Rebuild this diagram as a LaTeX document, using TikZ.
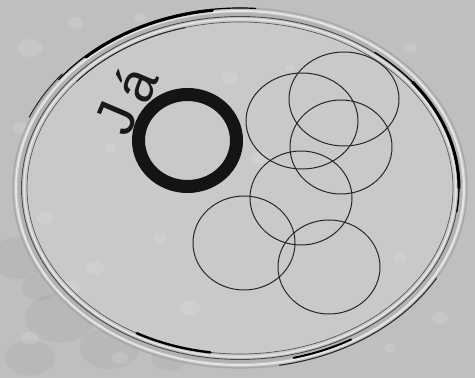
\documentclass[tikz,border=0pt]{standalone}
\usepackage{fontspec}
\newfontfamily\logofont{Liberation Sans}
\usetikzlibrary{positioning}
\definecolor{platebg}{gray}{0.75}
\definecolor{dishbg}{gray}{0.79}

\begin{document}
\begin{tikzpicture}[
  x=1pt, y=1pt,
  rim/.style={draw=black!45, line width=0.8pt},
  rimglow/.style={draw=white!80!gray, line width=2pt},
  rimband/.style={draw=black!30, line width=3pt},
  rimdark/.style={draw=black, line width=2.4pt, line cap=round},
  rimthin/.style={draw=black!85, line width=1pt, line cap=round},
  colony/.style={draw=black!85, line width=1pt},
  ring/.style={draw=black!92, line width=13pt},
  spot/.style={fill=white, opacity=0.13},
  smudge/.style={fill=black, opacity=0.035},
  logo/.style={rotate=67, anchor=base west, inner sep=0pt, text=black!90,
    font=\logofont\fontsize{56}{56}\selectfont}
]
\fill[platebg] (0,0) rectangle (475,378);
\useasboundingbox (0,0) rectangle (475,378);
\foreach \sx/\sy/\sr in {20/120/30, 60/60/35, 110/30/30, 30/20/25, 150/90/25, 90/150/20,
  200/40/22, 40/90/18, 130/60/16, 170/20/18, 75/110/14}
  \fill[smudge] (\sx,\sy) ellipse [x radius=\sr, y radius=0.7*\sr];
\coordinate (dish) at (240,190);
\fill[dishbg] (dish) ellipse [x radius=216, y radius=169];
\foreach \sx/\sy/\sr in {30/330/12, 75/355/8, 140/360/6, 260/360/7, 330/350/6, 410/330/7,
  20/250/7, 45/160/8, 70/90/10, 30/40/9, 120/20/8, 190/70/10, 160/140/7, 110/230/6,
  230/300/8, 260/220/8, 210/200/6, 400/120/7, 440/60/8, 390/30/6, 290/310/5, 95/110/9}
  \fill[spot] (\sx,\sy) ellipse [x radius=\sr, y radius=0.75*\sr];
\draw[rim, draw=black!35, line width=1.2pt] (dish) ellipse [x radius=227, y radius=180];
\draw[rimglow] (dish) ellipse [x radius=224, y radius=177];
\draw[rimband] (dish) ellipse [x radius=220.5, y radius=173.5];
\draw[rim, draw=black!70, line width=0.9pt] (dish) ellipse [x radius=218.5, y radius=171.5];
\draw[rimglow, line width=1.5pt] (dish) ellipse [x radius=216, y radius=169];
\draw[rim, draw=black!65, line width=0.7pt] (dish) ellipse [x radius=213, y radius=166];
\draw[rimdark, line width=1.2pt] (dish) ++(86:227 and 180) arc [start angle=86, end angle=143, x radius=227, y radius=180];
\draw[rimdark, line width=3pt] (dish) ++(97:226 and 179) arc [start angle=97, end angle=133, x radius=226, y radius=179];
\draw[rimthin] (dish) ++(105:213 and 166) arc [start angle=105, end angle=140, x radius=213, y radius=166];
\draw[rimthin] (dish) ++(141:229 and 181) arc [start angle=141, end angle=157, x radius=229, y radius=181];
\draw[rimdark, line width=1.2pt] (dish) ++(-8:219 and 172) arc [start angle=-8, end angle=52, x radius=219, y radius=172];
\draw[rimdark, line width=3pt] (dish) ++(0:219 and 172) arc [start angle=0, end angle=38, x radius=219, y radius=172];
\draw[rimdark] (dish) ++(241:213 and 166) arc [start angle=241, end angle=262, x radius=213, y radius=166];
\draw[rimthin] (dish) ++(280:227 and 180) arc [start angle=280, end angle=330, x radius=227, y radius=180];
\draw[rimdark, line width=2pt] (dish) ++(284:222 and 175) arc [start angle=284, end angle=300, x radius=222, y radius=175];
\foreach \cx/\cy/\rx/\ry in {302/257/56/48, 344/279/55/47, 341/231/51/47,
  301/180/51/47, 244/135/51/47, 329/111/51/47}
  \draw[colony] (\cx,\cy) ellipse [x radius=\rx, y radius=\ry];
\node[logo] (mark) at (128.6,239.8) {J\kern8pt\raisebox{-5pt}{á}};
\draw[ring] (187.5,237.5) ellipse [x radius=49, y radius=46];
\end{tikzpicture}
\end{document}
